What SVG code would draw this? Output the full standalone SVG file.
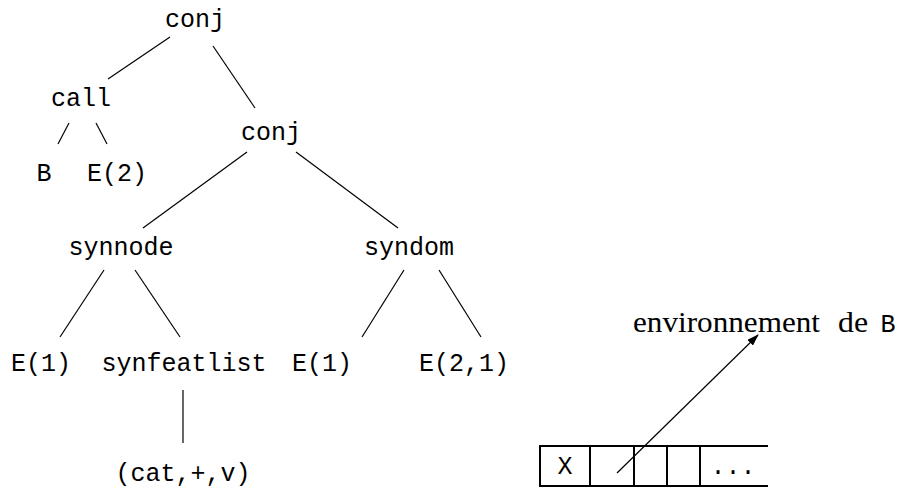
<svg xmlns="http://www.w3.org/2000/svg" width="907" height="489" viewBox="0 0 907 489">
<defs>
<style>
.t{font-family:"Liberation Mono","DejaVu Sans Mono",monospace;font-size:25px;fill:#000;text-anchor:middle}
.s{font-family:"Liberation Serif","DejaVu Serif",serif;font-size:30px;fill:#000}
.l{stroke:#000;stroke-width:1.2;fill:none}
.b{stroke:#000;stroke-width:2;fill:none}
</style>
<marker id="ah" markerWidth="12" markerHeight="8" refX="11" refY="4" orient="auto" markerUnits="userSpaceOnUse">
<path d="M0,0 L12,4 L0,8 Z" fill="#000"/>
</marker>
</defs>
<rect width="907" height="489" fill="#fff"/>
<g id="connectors">
<line class="l" x1="170" y1="37" x2="108" y2="79"/>
<line class="l" x1="213" y1="46" x2="255" y2="108"/>
<line class="l" x1="69" y1="123" x2="58" y2="144"/>
<line class="l" x1="96" y1="123" x2="107" y2="144"/>
<line class="l" x1="247" y1="152" x2="143" y2="228"/>
<line class="l" x1="296" y1="152" x2="398" y2="228"/>
<line class="l" x1="104" y1="270" x2="60" y2="337"/>
<line class="l" x1="135" y1="270" x2="180" y2="337"/>
<line class="l" x1="404" y1="270" x2="362" y2="337"/>
<line class="l" x1="439" y1="270" x2="481" y2="337"/>
<line class="l" x1="183" y1="390" x2="183" y2="443"/>
<line class="l" x1="617" y1="473" x2="758" y2="335" marker-end="url(#ah)"/>
</g>
<g id="n_conj1"><text class="t" x="195" y="27">conj</text></g>
<g id="n_call"><text class="t" x="81" y="106">call</text></g>
<g id="n_B"><text class="t" x="44" y="181">B</text></g>
<g id="n_E2"><text class="t" x="117" y="181">E(2)</text></g>
<g id="n_conj2"><text class="t" x="271" y="140">conj</text></g>
<g id="n_synnode"><text class="t" x="121" y="255">synnode</text></g>
<g id="n_syndom"><text class="t" x="409" y="255">syndom</text></g>
<g id="n_E1a"><text class="t" x="41" y="371">E(1)</text></g>
<g id="n_synfeatlist"><text class="t" x="184" y="371">synfeatlist</text></g>
<g id="n_E1b"><text class="t" x="322" y="371">E(1)</text></g>
<g id="n_E21"><text class="t" x="464" y="371">E(2,1)</text></g>
<g id="n_catv"><text class="t" x="183" y="481">(cat,+,v)</text></g>
<g id="n_env">
<text class="s" x="633" y="332"><tspan textLength="187" lengthAdjust="spacingAndGlyphs">environnement</tspan><tspan x="838" textLength="30" lengthAdjust="spacingAndGlyphs">de</tspan><tspan x="888" style="font-family:'Liberation Mono',monospace;font-size:25px;text-anchor:middle">B</tspan></text>
</g>
<g id="n_table">
<line class="b" x1="540" y1="446" x2="768" y2="446"/>
<line class="b" x1="540" y1="486" x2="768" y2="486"/>
<line class="b" x1="540" y1="445" x2="540" y2="487"/>
<line class="b" x1="590" y1="446" x2="590" y2="486"/>
<line class="b" x1="634" y1="446" x2="634" y2="486"/>
<line class="b" x1="667" y1="446" x2="667" y2="486"/>
<line class="b" x1="700" y1="446" x2="700" y2="486"/>
<text class="t" x="565" y="474">X</text>
<text class="t" x="733" y="474">...</text>
</g>
</svg>
